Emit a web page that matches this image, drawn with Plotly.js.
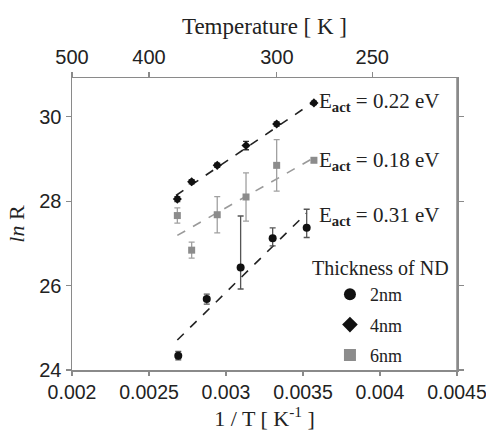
<!DOCTYPE html>
<html><head><meta charset="utf-8">
<script src="https://cdn.plot.ly/plotly-3.0.1.min.js"></script>
<style>html,body{margin:0;padding:0;background:#fff}#chart{width:486px;height:441px}</style>
</head><body><div id="chart"></div>
<script>
// ---- data ----
const invT_4nm = [0.002684, 0.002777, 0.002943, 0.003130, 0.003329, 0.003571];
const lnR_4nm  = [28.05, 28.46, 28.85, 29.32, 29.83, 30.33];
const err_4nm  = [0.06, 0.05, 0.05, 0.10, 0.05, 0.04];

const invT_6nm = [0.002684, 0.002777, 0.002943, 0.003130, 0.003329, 0.003571];
const lnR_6nm  = [27.66, 26.84, 27.68, 28.10, 28.85, 28.97];
const err_6nm  = [0.18, 0.19, 0.43, 0.57, 0.61, 0.05];

const invT_2nm = [0.002690, 0.002875, 0.003095, 0.003303, 0.003524];
const lnR_2nm  = [24.34, 25.68, 26.43, 27.12, 27.37];
const errPlus_2nm  = [0.10, 0.12, 1.22, 0.25, 0.44];
const errMinus_2nm = [0.10, 0.12, 0.51, 0.18, 0.23];

const fitX_4nm = [0.002675, 0.003556], fitY_4nm = [28.135, 30.32];
const fitX_6nm = [0.002684, 0.003571], fitY_6nm = [27.19, 29.03];
const fitX_2nm = [0.002684, 0.003524], fitY_2nm = [24.71, 27.72];

const eactLabels = ['E<sub><b>act</b></sub> = 0.22 eV', 'E<sub><b>act</b></sub> = 0.18 eV', 'E<sub><b>act</b></sub> = 0.31 eV'];
const eactY = [30.34, 28.96, 27.66];

const xTickVals = [0.002, 0.0025, 0.003, 0.0035, 0.004, 0.0045];
const xTickText = ['0.002', '0.0025', '0.003', '0.0035', '0.004', '0.0045'];
const topTickVals = [0.002, 0.0025, 0.00333, 0.00395];
const topTickText = ['500', '400', '300', '250'];
const yTickVals = [24, 26, 28, 30];

const legendNames = ['2nm', '4nm', '6nm'];

const BLACK = '#111111', GREY = '#8c8c8c', AXIS = '#8a8a8a';
const serif = 'Liberation Serif, Times New Roman, serif';
const sans = 'Liberation Sans, Arial, sans-serif';

const traces = [
  {x: fitX_4nm, y: fitY_4nm, mode: 'lines', line: {color: '#222', width: 1.6, dash: 'dash'}, showlegend: false, hoverinfo: 'skip'},
  {x: fitX_6nm, y: fitY_6nm, mode: 'lines', line: {color: '#9a9a9a', width: 1.6, dash: 'dash'}, showlegend: false, hoverinfo: 'skip'},
  {x: fitX_2nm, y: fitY_2nm, mode: 'lines', line: {color: '#222', width: 1.6, dash: 'dash'}, showlegend: false, hoverinfo: 'skip'},
  {x: invT_4nm, y: lnR_4nm, mode: 'markers', name: legendNames[1], showlegend: false,
   marker: {symbol: 'diamond', size: 7, color: BLACK},
   error_y: {type: 'data', array: err_4nm, color: '#333', thickness: 1.3, width: 3}},
  {x: invT_6nm, y: lnR_6nm, mode: 'markers', name: legendNames[2], showlegend: false,
   marker: {symbol: 'square', size: 7, color: GREY},
   error_y: {type: 'data', array: err_6nm, color: '#a0a0a0', thickness: 1.3, width: 3}},
  {x: invT_2nm, y: lnR_2nm, mode: 'markers', name: legendNames[0], showlegend: false,
   marker: {symbol: 'circle', size: 8, color: BLACK},
   error_y: {type: 'data', symmetric: false, array: errPlus_2nm, arrayminus: errMinus_2nm, color: '#555', thickness: 1.3, width: 3}},
  // legend entries
  {x: [null], y: [null], mode: 'markers', name: legendNames[0], legendgroup: 'a', marker: {symbol: 'circle', color: BLACK, size: 12}},
  {x: [null], y: [null], mode: 'markers', name: legendNames[1], legendgroup: 'b', marker: {symbol: 'diamond', color: BLACK, size: 12}},
  {x: [null], y: [null], mode: 'markers', name: legendNames[2], legendgroup: 'c', marker: {symbol: 'square', color: GREY, size: 12}},
  // top axis carrier
  {x: [null], y: [null], xaxis: 'x2', yaxis: 'y', mode: 'markers', showlegend: false, hoverinfo: 'skip'}
];

const annotations = eactLabels.map((t, i) => ({
  text: t, xref: 'paper', yref: 'y', x: 0.636, y: eactY[i], xanchor: 'left', yanchor: 'middle',
  showarrow: false, font: {family: serif, size: 21, color: '#222'}
}));
annotations.push({text: 'Thickness of ND', xref: 'paper', yref: 'paper', x: 0.618, y: 0.35,
  xanchor: 'left', yanchor: 'middle', showarrow: false, font: {family: serif, size: 20, color: '#222'}});

const layout = {
  width: 486, height: 441,
  margin: {l: 72, r: 29, t: 78, b: 71},
  paper_bgcolor: '#fff', plot_bgcolor: '#fff',
  showlegend: true,
  legend: {x: 0.67, xanchor: 'left', y: 0.322, yanchor: 'top', bgcolor: 'rgba(0,0,0,0)',
    font: {family: serif, size: 18, color: '#222'}, itemsizing: 'constant',
    traceorder: 'grouped', tracegroupgap: 4},
  xaxis: {range: [0.0019999, 0.0045001], tickvals: xTickVals, ticktext: xTickText,
    showgrid: false, zeroline: false, showline: true, linecolor: AXIS, linewidth: 1.5, mirror: false,
    ticks: 'outside', ticklen: 4, tickcolor: AXIS, tickwidth: 1.2, ticklabeloverflow: 'allow',
    tickfont: {family: sans, size: 19.5, color: '#222'},
    title: {text: '1 / T [ K<sup>-1</sup> ]', font: {family: serif, size: 22, color: '#222'}, standoff: 6}},
  xaxis2: {range: [0.0019999, 0.0045001], overlaying: 'x', side: 'top', anchor: 'y', tickvals: topTickVals, ticktext: topTickText,
    showgrid: false, zeroline: false, showline: true, linecolor: AXIS, linewidth: 1.5,
    ticks: 'outside', ticklen: 5, tickcolor: AXIS, tickwidth: 1.2, ticklabeloverflow: 'allow',
    tickfont: {family: sans, size: 20, color: '#222'},
    title: {text: 'Temperature [ K ]', font: {family: serif, size: 23, color: '#222'}, standoff: 4}},
  yaxis: {range: [24, 30.92], tickvals: yTickVals,
    showgrid: false, zeroline: false, showline: true, linecolor: AXIS, linewidth: 1.5, mirror: 'all',
    ticks: 'outside', ticklen: 5, tickcolor: AXIS, tickwidth: 1.2,
    tickfont: {family: sans, size: 20, color: '#222'},
    title: {text: '<i>ln</i> R', font: {family: serif, size: 22, color: '#222'}, standoff: 8}},
  shapes: [{type: 'line', xref: 'paper', yref: 'paper', x0: 1, x1: 1, y0: 0, y1: 1,
    line: {color: AXIS, width: 1.5}}],
  annotations: annotations
};

Plotly.newPlot('chart', traces, layout, {staticPlot: true, displayModeBar: false});
</script>
</body></html>
